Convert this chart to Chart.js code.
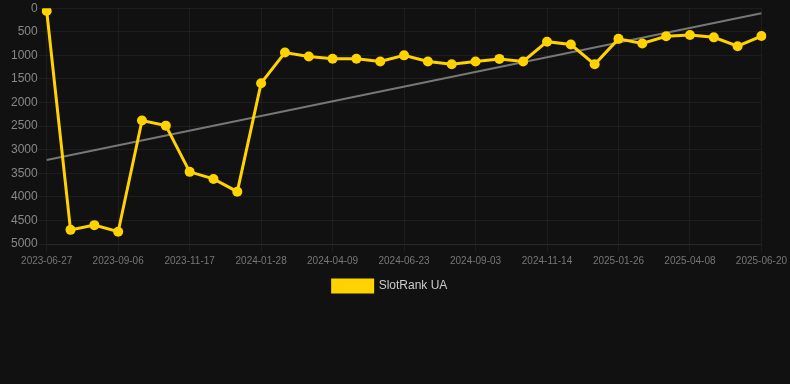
<!DOCTYPE html>
<html>
<head>
<meta charset="utf-8">
<script src="https://cdn.jsdelivr.net/npm/chart.js@4/dist/chart.umd.min.js"></script>
<style>
    html, body { margin: 0; padding: 0; background: #111111; }
    #wrap { width: 790px; height: 302px; position: relative; }
</style>
</head>
<body>
<div id="wrap"><canvas id="chart"></canvas></div>
<script>
// dates of each sample (only every third is shown on the axis)
const dates = [
    '2023-06-27', '2023-07-21', '2023-08-14',
    '2023-09-06', '2023-09-30', '2023-10-24',
    '2023-11-17', '2023-12-11', '2024-01-04',
    '2024-01-28', '2024-02-21', '2024-03-16',
    '2024-04-09', '2024-05-04', '2024-05-29',
    '2024-06-23', '2024-07-17', '2024-08-10',
    '2024-09-03', '2024-09-27', '2024-10-21',
    '2024-11-14', '2024-12-08', '2025-01-02',
    '2025-01-26', '2025-02-19', '2025-03-15',
    '2025-04-08', '2025-05-02', '2025-05-26',
    '2025-06-20'
];

// rank values, lower is better (axis is reversed)
const slotRankUA = [
    60, 4700, 4600, 4740, 2380, 2490, 3470, 3620, 3890, 1590,
    940, 1025, 1070, 1070, 1130, 1000, 1130, 1190, 1130, 1075,
    1130, 710, 770, 1190, 650, 748, 595, 568, 618, 805,
    590
];

// trend line end points
const trendEnds = [3220, 105];

const trendData = dates.map((d, i) => {
    if (i === 0) return trendEnds[0];
    if (i === dates.length - 1) return trendEnds[1];
    return null;
});

const gold = '#ffd200';
const gridColor = 'rgba(255,255,255,0.05)';
const fontFamily = 'Liberation Sans, Arial, sans-serif';

new Chart(document.getElementById('chart'), {
    type: 'line',
    data: {
        labels: dates,
        datasets: [
            {
                label: 'SlotRank UA',
                data: slotRankUA,
                borderColor: gold,
                backgroundColor: gold,
                borderWidth: 3,
                pointRadius: 5,
                pointHoverRadius: 5,
                pointBackgroundColor: gold,
                pointBorderWidth: 0,
                tension: 0
            },
            {
                label: 'trend',
                data: trendData,
                borderColor: '#777777',
                borderWidth: 2,
                pointRadius: 0,
                spanGaps: true,
                fill: false
            }
        ]
    },
    options: {
        responsive: true,
        maintainAspectRatio: false,
        animation: false,
        layout: {
            padding: { top: 0, right: 20, left: 10, bottom: 0 }
        },
        plugins: {
            legend: {
                position: 'bottom',
                labels: {
                    boxWidth: 40,
                    boxHeight: 12,
                    color: '#cccccc',
                    font: { family: fontFamily, size: 12 },
                    filter: item => item.text !== 'trend'
                }
            },
            tooltip: { enabled: false }
        },
        scales: {
            x: {
                type: 'category',
                offset: false,
                afterBuildTicks: scale => {
                    scale.ticks = scale.ticks.filter(t => t.value % 3 === 0);
                },
                ticks: {
                    autoSkip: false,
                    maxRotation: 0,
                    padding: 3,
                    color: '#777777',
                    font: { family: fontFamily, size: 10 }
                },
                grid: { color: gridColor },
                border: { color: gridColor }
            },
            y: {
                reverse: true,
                min: 0,
                max: 5000,
                ticks: {
                    stepSize: 500,
                    color: '#888888',
                    padding: 1,
                    font: { family: fontFamily, size: 12 },
                    callback: v => String(v)
                },
                grid: { color: gridColor },
                border: { display: false }
            }
        }
    }
});
</script>
</body>
</html>
